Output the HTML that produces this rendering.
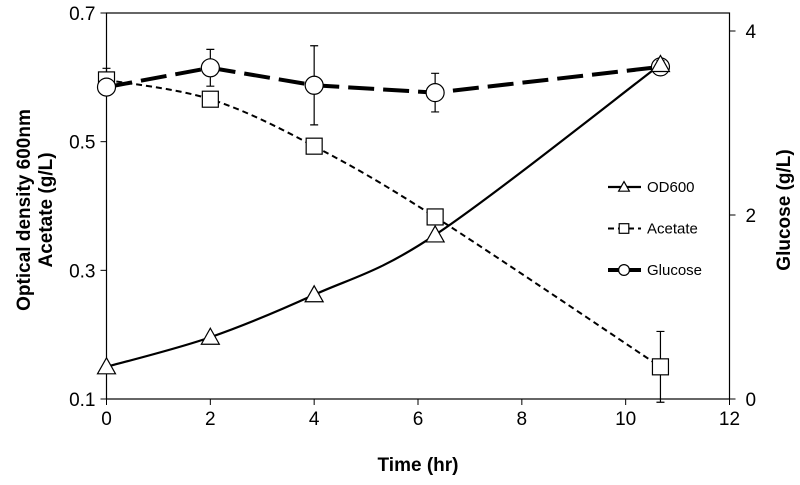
<!DOCTYPE html>
<html><head><meta charset="utf-8"><style>
body{margin:0;background:#fff}
svg text{font-family:"Liberation Sans",Arial,sans-serif;fill:#000}
</style></head><body>
<svg id="chart" width="800" height="480">
<g id="axes"></g><g id="series"></g><g id="legend"></g>
</svg>
<script>
const times=[0,2,4,6.33,10.67];
const od600=[0.15,0.196,0.262,0.355,0.62];
const odErr=[0,0,0,0,0.006];
const acetate=[0.596,0.566,0.493,0.383,0.15];
const acetateErr=[0.018,0,0,0,0.055];
const glucose=[3.39,3.6,3.41,3.33,3.61];
const glucoseErr=[0,0.2,0.43,0.21,0];
const xTicks=[0,2,4,6,8,10,12];
const yTicks=[0.1,0.3,0.5,0.7];
const y2Ticks=[0,2,4];
const NS="http://www.w3.org/2000/svg";
const L=106.5,R=729.5,T=13,B=399;
const xs=v=>L+v/12*(R-L);
const ys=v=>B-(v-0.1)/0.6*(B-T);
const y2s=v=>B-v*92;
function mk(parent,tag,attrs,txt){const e=document.createElementNS(NS,tag);for(const k in attrs)e.setAttribute(k,attrs[k]);if(txt!==undefined)e.textContent=txt;document.getElementById(parent).appendChild(e);return e;}
let e;
e=mk('axes','rect',{x:L,y:T,width:R-L,height:B-T,fill:'none',stroke:'#000','stroke-width':1.2});


xTicks.forEach(v=>{
 e=mk('axes','line',{x1:xs(v),x2:xs(v),y1:B,y2:B+6,stroke:'#000'});
 
 
 e=mk('axes','text',{x:xs(v),y:B+26,'font-size':19,'text-anchor':'middle'},v);
 
 
});
yTicks.forEach(v=>{
 e=mk('axes','line',{x1:L-6,x2:L,y1:ys(v),y2:ys(v),stroke:'#000'});
 
 
 e=mk('axes','text',{x:L-11,y:ys(v)+7,'font-size':19,'text-anchor':'end'},v.toFixed(1));
 
 
});
y2Ticks.forEach(v=>{
 e=mk('axes','line',{x1:R,x2:R+6,y1:y2s(v),y2:y2s(v),stroke:'#000'});
 
 
 e=mk('axes','text',{x:R+16,y:y2s(v)+7,'font-size':19},v);
 
 
});
e=mk('axes','text',{x:(L+R)/2,y:471,'font-size':19,'font-weight':'bold','text-anchor':'middle'},'Time (hr)');


e=mk('axes','text',{transform:'translate(30,210) rotate(-90)','font-size':19,'font-weight':'bold','text-anchor':'middle'},'Optical density  600nm');


e=mk('axes','text',{transform:'translate(52,210) rotate(-90)','font-size':19,'font-weight':'bold','text-anchor':'middle'},'Acetate (g/L)');


e=mk('axes','text',{transform:'translate(790,210) rotate(-90)','font-size':19,'font-weight':'bold','text-anchor':'middle'},'Glucose (g/L)');



function smoothPath(pts){
 let d=`M${pts[0][0]},${pts[0][1]}`;
 for(let i=0;i<pts.length-1;i++){
  const p0=pts[i-1]||pts[i],p1=pts[i],p2=pts[i+1],p3=pts[i+2]||p2;
  const c1=[p1[0]+(p2[0]-p0[0])/6,p1[1]+(p2[1]-p0[1])/6];
  const c2=[p2[0]-(p3[0]-p1[0])/6,p2[1]-(p3[1]-p1[1])/6];
  d+=`C${c1[0]},${c1[1]} ${c2[0]},${c2[1]} ${p2[0]},${p2[1]}`;
 }
 return d;
}
function series(name,vals,errs,sc,dash,width,marker,smooth){
 const pts=times.map((t,i)=>[xs(t),sc(vals[i])]);
 errs.forEach((er,i)=>{ if(!er)return;
  const x=pts[i][0];
  e=mk('series','path',{d:`M${x},${sc(vals[i]+er)}V${sc(vals[i]-er)}M${x-4},${sc(vals[i]+er)}h8M${x-4},${sc(vals[i]-er)}h8`,stroke:'#000','stroke-width':1.2,fill:'none'});
  
  
 });
 const d=smooth?smoothPath(pts):'M'+pts.map(p=>p.join(',')).join('L');
 e=mk('series','path',{d:d,fill:'none',stroke:'#000','stroke-width':width,'stroke-dasharray':dash});
 
 
 pts.forEach(p=>{
  e=drawMarker('series',marker,p[0],p[1]);
  
  
 });
}
function drawMarker(g,m,x,y,s=1){
 if(m==='tri')return mk(g,'path',{d:`M${x},${y-9*s}L${x+9*s},${y+7*s}L${x-9*s},${y+7*s}Z`,fill:'#fff',stroke:'#000','stroke-width':1.2});
 if(m==='sq')return mk(g,'rect',{x:x-8*s,y:y-8*s,width:16*s,height:16*s,fill:'#fff',stroke:'#000','stroke-width':1.2});
 return mk(g,'circle',{cx:x,cy:y,r:9*s,fill:'#fff',stroke:'#000','stroke-width':1.2});
}
series('acetate',acetate,acetateErr,ys,'6,4',2,'sq',true);
series('glucose',glucose,glucoseErr,y2s,'26,9',4,'circ',false);
series('od600',od600,odErr,ys,'',2.2,'tri',true);

const legendItems=[['OD600','',2.2,'tri'],['Acetate','6,4',2,'sq'],['Glucose','14,6',4,'circ']];
legendItems.forEach((it,i)=>{
 const y=187+i*41.5;
 e=mk('legend','line',{x1:608,x2:641,y1:y,y2:y,stroke:'#000','stroke-width':it[2],'stroke-dasharray':it[1]});
 
 
 e=drawMarker('legend',it[3],624,y,0.6);
 
 
 e=mk('legend','text',{x:647,y:y+5,'font-size':15},it[0]);
 
 
});
</script>
</body></html>
